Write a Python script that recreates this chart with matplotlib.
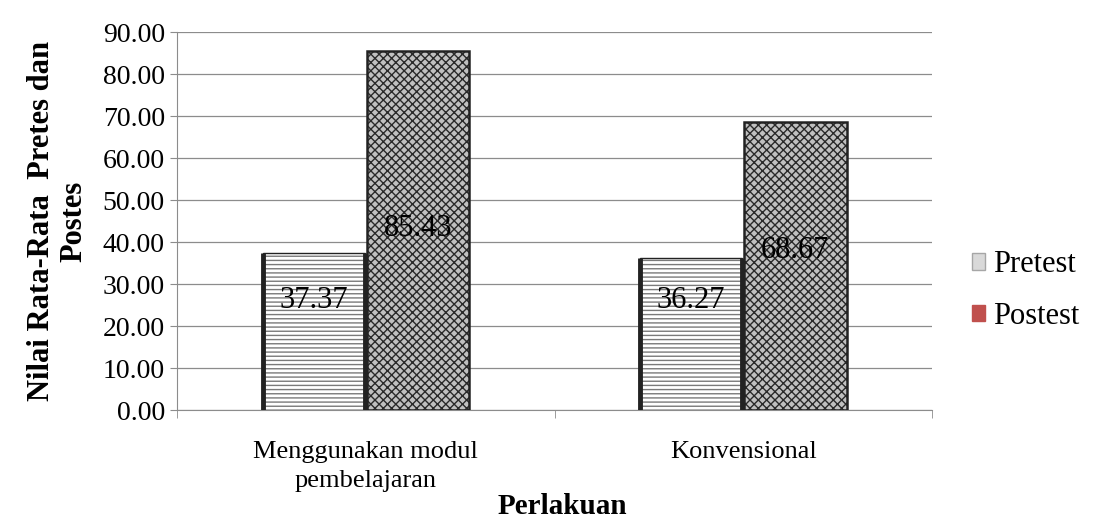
import numpy as np
import matplotlib.pyplot as plt
from matplotlib.patches import Patch

# data
categories = ["Menggunakan modul\npembelajaran", "Konvensional"]
pretest = [37.37, 36.27]
postest = [85.43, 68.67]
series_names = ["Pretest", "Postest"]
y_ticks = [0, 10, 20, 30, 40, 50, 60, 70, 80, 90]

plt.rcParams["font.family"] = ["Liberation Serif", "DejaVu Serif"]
plt.rcParams["hatch.linewidth"] = 1.0

fig = plt.figure(figsize=(11.08, 5.19), dpi=100)
ax = fig.add_axes([0.16, 0.21, 0.681, 0.728])

x = np.arange(len(categories))
w = 0.272
off = 0.138

# pretest: horizontal line pattern, thick dark sides
ax.bar(x - off, pretest, w, color="white", edgecolor="#7a7a7a", hatch="----", linewidth=0, zorder=2)
ax.bar(x - off, pretest, w, fill=False, edgecolor="#222222", linewidth=1.0, zorder=3)
ax.vlines(np.concatenate([x - off - w / 2, x - off + w / 2]), 0, pretest * 2,
          color="#222222", linewidth=3.5, zorder=3)
# postest: dense cross hatch
ax.bar(x + off, postest, w, color="#c0c0c0", edgecolor="#2a2a2a", hatch="xxxx", linewidth=0, zorder=2)
ax.bar(x + off, postest, w, fill=False, edgecolor="#222222", linewidth=1.8, zorder=3)

# value labels
pre_label_y = [26, 26]
post_label_y = [43.3, 38.0]
for i in range(len(categories)):
    ax.text(x[i] - off, pre_label_y[i], f"{pretest[i]:.2f}", ha="center", va="center",
            fontsize=22, zorder=4)
    ax.text(x[i] + off, post_label_y[i], f"{postest[i]:.2f}", ha="center", va="center",
            fontsize=22, zorder=4)

ax.set_ylim(0, 90)
ax.set_xlim(-0.5, 1.5)
ax.set_yticks(y_ticks)
ax.set_yticklabels([f"{v:.2f}" for v in y_ticks], fontsize=20)
ax.yaxis.grid(True, color="#8c8c8c", linewidth=0.9, zorder=0)
ax.set_axisbelow(True)
ax.tick_params(axis="y", length=5, color="#8c8c8c", pad=4)

ax.set_xticks(x)
ax.set_xticklabels(categories, fontsize=19, linespacing=1.45)
ax.tick_params(axis="x", length=0, pad=22)
ax.set_xticks([-0.5, 0.5, 1.5], minor=True)
ax.tick_params(axis="x", which="minor", length=6, color="#8c8c8c")

for s in ["top", "right"]:
    ax.spines[s].set_visible(False)
ax.spines["left"].set_color("#8c8c8c")
ax.spines["bottom"].set_color("#8c8c8c")

ax.set_xlabel("Perlakuan", fontsize=21, fontweight="bold", va="center")
ax.xaxis.set_label_coords(0.51, -0.255)
ax.set_ylabel("Nilai Rata-Rata  Pretes dan\nPostes", fontsize=22, fontweight="bold",
              linespacing=1.15, va="center")
ax.yaxis.set_label_coords(-0.158, 0.5)

handles = [Patch(facecolor="#d9d9d9", edgecolor="#a6a6a6", label=series_names[0]),
           Patch(facecolor="#c0504d", edgecolor="#c0504d", label=series_names[1])]
fig.legend(handles=handles, loc="center left", bbox_to_anchor=(0.852, 0.44), frameon=False,
           fontsize=22, handlelength=0.45, handleheight=0.45, handletextpad=0.25, labelspacing=0.75)

fig.savefig("out.png", dpi=100)
